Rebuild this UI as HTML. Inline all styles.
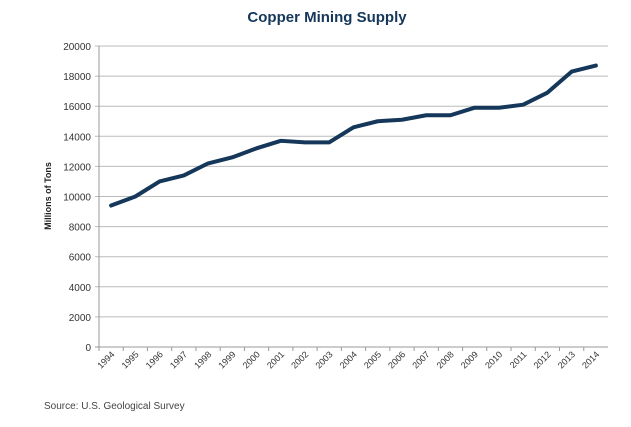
<!DOCTYPE html>
<html><head><meta charset="utf-8"><style>
body{margin:0;background:#fff;font-family:"Liberation Sans",sans-serif}
</style></head><body>
<svg id="c" width="631" height="422" xmlns="http://www.w3.org/2000/svg">
<text x="327" y="22" text-anchor="middle" font-size="15" font-weight="bold" fill="#14375a">Copper Mining Supply</text>
<text transform="translate(51,196) rotate(-90)" text-anchor="middle" font-size="9" font-weight="bold" fill="#222">Millions of Tons</text>
<text x="44" y="409" font-size="10" fill="#444">Source: U.S. Geological Survey</text>
<g id="grid"></g><g id="xl"></g><path id="ln" fill="none" stroke="#14375a" stroke-width="4" stroke-linejoin="round" stroke-linecap="round"/>
</svg>
<script>
const years=["1994","1995","1996","1997","1998","1999","2000","2001","2002","2003","2004","2005","2006","2007","2008","2009","2010","2011","2012","2013","2014"];
const supply=[9400,10000,11000,11400,12200,12600,13200,13700,13600,13600,14600,15000,15100,15400,15400,15900,15900,16100,16900,18300,18700];
const yTicks=[0,2000,4000,6000,8000,10000,12000,14000,16000,18000,20000];
const L=99,R=608,T=46,B=347,NS="http://www.w3.org/2000/svg";
const y=v=>B-(v/20000)*(B-T);
const bw=(R-L)/years.length;
const x=i=>L+bw*(i+0.5);
const g=document.getElementById('grid'),xl=document.getElementById('xl');
function mk(t,a,p){const e=document.createElementNS(NS,t);for(const k in a)e.setAttribute(k,a[k]);p.appendChild(e);return e;}
yTicks.forEach(v=>{
 const l=mk('line',{x1:L-4,x2:R,y1:y(v),y2:y(v),stroke:v===0?'#999':'#bbb','stroke-width':1},g);
 
 
 const t=mk('text',{x:91,y:y(v)+4,'text-anchor':'end','font-size':10,fill:'#333'},g);
 t.textContent=v;
 
 
});
mk('line',{x1:L,x2:L,y1:T,y2:B,stroke:'#999'},g);
years.forEach((yr,i)=>{
 const tk=mk('line',{x1:L+bw*i,x2:L+bw*i,y1:B,y2:B+4,stroke:'#999'},g);
 const t=mk('text',{transform:`translate(${x(i)+4},${B+8}) rotate(-45)`,'text-anchor':'end','font-size':9,fill:'#333'},xl);
 t.textContent=yr;
 
 
});
document.getElementById('ln').setAttribute('d',supply.map((v,i)=>(i?'L':'M')+x(i)+','+y(v)).join(''));
</script>
</body></html>
